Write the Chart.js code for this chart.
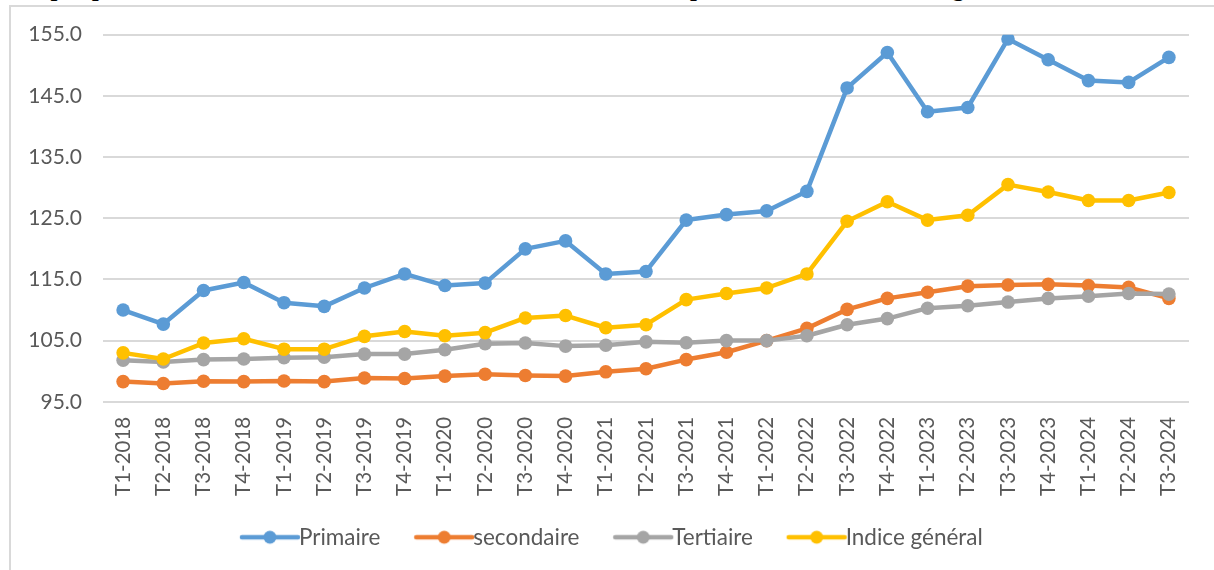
<!DOCTYPE html>
<html>
<head>
<meta charset="utf-8">
<script src="https://cdn.jsdelivr.net/npm/chart.js@4.4.1/dist/chart.umd.min.js"></script>
<style>
html,body{margin:0;padding:0;background:#fff;overflow:hidden;}
#wrap{position:relative;width:1214px;height:570px;overflow:hidden;background:#fff;}
#frame{position:absolute;left:9px;top:5px;width:1300px;height:700px;border:2px solid #d9d9d9;box-sizing:border-box;}
#title{position:absolute;left:8px;top:-20px;white-space:nowrap;font-weight:bold;font-family:"Liberation Serif",serif;font-size:19px;line-height:1;color:#000;}
#c{position:absolute;left:0;top:0;}
</style>
</head>
<body>
<div id="wrap">
  <div id="frame"></div>
  <div id="title">Graphique 1 : Evolution trimestrielle des indices des secteurs de production et de l'indice global</div>
  <canvas id="c" width="1214" height="570"></canvas>
</div>
<script>
const categories = ["T1-2018","T2-2018","T3-2018","T4-2018","T1-2019","T2-2019","T3-2019","T4-2019",
  "T1-2020","T2-2020","T3-2020","T4-2020","T1-2021","T2-2021","T3-2021","T4-2021",
  "T1-2022","T2-2022","T3-2022","T4-2022","T1-2023","T2-2023","T3-2023","T4-2023",
  "T1-2024","T2-2024","T3-2024"];

const primaire = [110.0,107.7,113.2,114.5,111.2,110.6,113.6,115.9,
  114.0,114.4,120.0,121.3,115.9,116.3,124.7,125.6,
  126.2,129.4,146.3,152.1,142.4,143.1,154.3,150.9,
  147.5,147.2,151.3];

const secondaire = [98.3,98.0,98.35,98.3,98.4,98.3,98.9,98.8,
  99.2,99.5,99.3,99.2,99.9,100.4,101.9,103.1,
  105.0,107.0,110.1,111.9,112.9,113.9,114.1,114.2,
  114.0,113.7,111.9];

const tertiaire = [101.8,101.5,101.9,102.0,102.2,102.3,102.8,102.8,
  103.5,104.5,104.6,104.1,104.25,104.8,104.65,105.0,
  105.0,105.8,107.6,108.6,110.3,110.7,111.3,111.9,
  112.25,112.7,112.6];

const indiceGeneral = [103.0,102.0,104.6,105.3,103.6,103.6,105.7,106.5,
  105.8,106.3,108.7,109.1,107.1,107.6,111.7,112.7,
  113.6,115.9,124.5,127.7,124.7,125.5,130.5,129.3,
  127.9,127.9,129.2];

const seriesNames = ["Primaire","secondaire","Tertiaire","Indice général"];
const seriesColors = ["#5B9BD5","#ED7D31","#A5A5A5","#FFC000"];
const yTicks = {min: 95, max: 155, step: 10};

// fit the (cropped) title width
(function(){
  const t = document.getElementById('title');
  const w = t.getBoundingClientRect().width;
  const fs = 19 * 1009 / w;
  t.style.fontSize = fs.toFixed(2) + 'px';
  t.style.top = (-3 - 0.8375*fs).toFixed(1) + 'px';
})();

function legendIcon(color){
  const cv = document.createElement('canvas');
  cv.width = 160; cv.height = 20;
  const ctx = cv.getContext('2d');
  ctx.strokeStyle = color; ctx.lineWidth = 4.5; ctx.lineCap = 'round';
  ctx.beginPath(); ctx.moveTo(70, 10); ctx.lineTo(126, 10); ctx.stroke();
  ctx.fillStyle = color;
  ctx.beginPath(); ctx.arc(98, 10, 6.5, 0, Math.PI*2); ctx.fill();
  return cv;
}
const icons = seriesColors.map(legendIcon);

const dataArrays = [primaire, secondaire, tertiaire, indiceGeneral];
const datasets = dataArrays.map((arr, i) => ({
  label: seriesNames[i],
  data: arr,
  borderColor: seriesColors[i],
  backgroundColor: seriesColors[i],
  pointBackgroundColor: seriesColors[i],
  pointBorderColor: seriesColors[i],
  borderWidth: 4.5,
  pointRadius: 6.8,
  pointBorderWidth: 0,
  pointHoverRadius: 6.8,
  borderJoinStyle: 'round',
  borderCapStyle: 'round',
  tension: 0,
  fill: false,
  order: 4 - i
}));

const TEXT = '#595959';
const FONT = 'Lato, "Open Sans", sans-serif';

new Chart(document.getElementById('c'), {
  type: 'line',
  data: { labels: categories, datasets },
  options: {
    responsive: false,
    animation: false,
    devicePixelRatio: 1,
    layout: { padding: { left: 10, right: 25, top: 34.7, bottom: 11.5 } },
    plugins: {
      tooltip: { enabled: false },
      legend: {
        position: 'bottom',
        labels: {
          color: TEXT,
          font: { family: FONT, size: 22.5 },
          usePointStyle: true,
          pointStyleWidth: 71.5,
          padding: 10,
          sort: (a, b) => a.datasetIndex - b.datasetIndex,
          generateLabels: (chart) => chart.data.datasets.map((ds, i) => ({
            text: ds.label,
            fillStyle: ds.borderColor,
            strokeStyle: ds.borderColor,
            lineWidth: 0,
            pointStyle: icons[i],
            fontColor: TEXT,
            hidden: false,
            datasetIndex: i
          }))
        }
      }
    },
    scales: {
      x: {
        offset: true,
        grid: { display: false, drawTicks: false },
        border: { display: false },
        ticks: {
          color: TEXT,
          font: { family: FONT, size: 20.5 },
          minRotation: 90, maxRotation: 90,
          padding: 15,
          autoSkip: false
        },
        afterFit: (s) => { s.height = 114.2; }
      },
      y: {
        min: yTicks.min, max: yTicks.max,
        grid: { color: '#d9d9d9', lineWidth: 2, drawTicks: false },
        border: { display: false },
        ticks: {
          stepSize: yTicks.step,
          color: TEXT,
          font: { family: FONT, size: 21 },
          padding: 21,
          callback: (v) => Number(v).toFixed(1)
        },
        afterFit: (s) => { s.width = 93; }
      }
    }
  }
});
</script>
</body>
</html>
